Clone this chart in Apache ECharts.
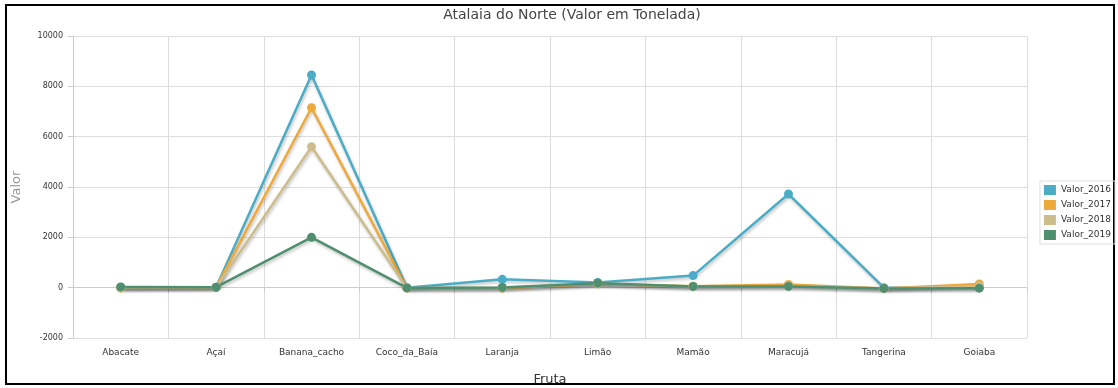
<!DOCTYPE html>
<html><head><meta charset="utf-8">
<style>html,body{margin:0;padding:0;background:#fff;}#c{width:1118px;height:388px;}</style>
<script src="https://cdn.jsdelivr.net/npm/echarts@6/dist/echarts.min.js"></script>
</head><body><div id="c"></div>
<script>
const categories = ['Abacate','Açaí','Banana_cacho','Coco_da_Baía','Laranja','Limão','Mamão','Maracujá','Tangerina','Goiaba'];
const v2016 = [20, 20, 8450, 0, 330, 210, 480, 3720, 0, 0];
const v2017 = [-20, 10, 7150, -20, -20, 150, 60, 130, -30, 150];
const v2018 = [0, 10, 5600, -10, 0, 160, 50, 60, -20, 60];
const v2019 = [30, 20, 2000, -10, 10, 180, 50, 50, -30, -20];
const seriesNames = ['Valor_2016','Valor_2017','Valor_2018','Valor_2019'];
const colors = ['#4bacc6','#eda93a','#cdbd8d','#4f8f6f'];
const yTicks = {min:-2000, max:10000, interval:2000};

const chart = echarts.init(document.getElementById('c'));
const data = [v2016, v2017, v2018, v2019];
chart.setOption({
  animation:false,
  title:{text:'Atalaia do Norte (Valor em Tonelada)', left:567, textAlign:'center', top:3,
    textStyle:{fontFamily:'DejaVu Sans', fontSize:14, fontWeight:'normal', color:'#444'}},
  grid:{left:73, right:91, top:36, bottom:50, outerBoundsMode:'none', containLabel:false},
  legend:{orient:'vertical', right:3, top:181, itemWidth:12, itemHeight:10, itemGap:5,
    padding:[4,4,4,4], borderColor:'#ddd', borderWidth:1, icon:'rect',
    textStyle:{fontFamily:'DejaVu Sans', fontSize:9, color:'#333'},
    data:seriesNames},
  xAxis:{type:'category', data:categories, boundaryGap:true, name:'Fruta', nameLocation:'middle', nameGap:35,
    nameTextStyle:{fontFamily:'DejaVu Sans', fontSize:13, color:'#333'},
    axisLine:{lineStyle:{color:'#ccc'}}, axisTick:{show:true, length:5, lineStyle:{color:'#ccc'}},
    axisLabel:{fontFamily:'DejaVu Sans', fontSize:9, color:'#333', margin:10},
    splitLine:{show:true, lineStyle:{color:'#ddd'}}},
  yAxis:{type:'value', min:yTicks.min, max:yTicks.max, interval:yTicks.interval, name:'Valor', nameLocation:'middle', nameGap:50,
    nameTextStyle:{fontFamily:'DejaVu Sans', fontSize:13, color:'#999'},
    axisLine:{show:true, lineStyle:{color:'#ccc'}}, axisTick:{show:true, length:5, lineStyle:{color:'#ccc'}},
    axisLabel:{fontFamily:'DejaVu Sans', fontSize:8, color:'#333', margin:10, formatter:v=>String(v)},
    splitLine:{show:true, lineStyle:{color:'#ddd'}}},
  series: seriesNames.map((n,i)=>({
    name:n, type:'line', data:data[i], symbol:'circle', symbolSize:9,
    itemStyle:{color:colors[i]},
    lineStyle:{width:2.5, color:colors[i], shadowColor:'rgba(0,0,0,0.25)', shadowBlur:3, shadowOffsetX:1, shadowOffsetY:2}
  })),
  graphic:[{type:'rect', shape:{x:6, y:5, width:1108, height:379}, style:{fill:'none', stroke:'#000', lineWidth:2}, silent:true}]
});
</script></body></html>
